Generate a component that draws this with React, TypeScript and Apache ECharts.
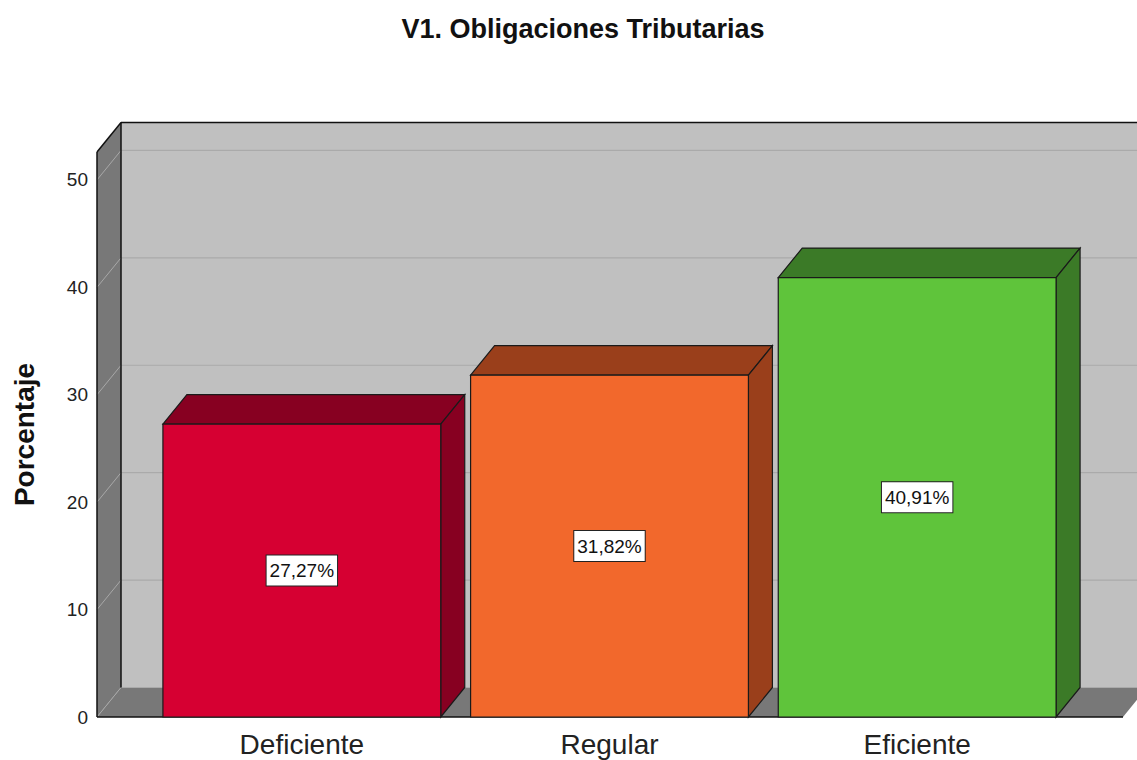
import React, { useEffect, useRef } from "react";
import * as echarts from "echarts";

const titleText = "V1. Obligaciones Tributarias";
const yAxisTitle = "Porcentaje";
const categories = ["Deficiente", "Regular", "Eficiente"];
const percentages = [27.27, 31.82, 40.91];
const yTicks = [0, 10, 20, 30, 40, 50];
const yMax = 52.6;
const frontColors = ["#d60032", "#f2682c", "#5fc43b"];
const shadeColors = ["#870021", "#9a3f1b", "#3b7a27"];

const FONT = "'Liberation Sans', Arial, sans-serif";
const DX = 24;
const DY = 29.5;

function fmtPct(v: number) {
  return v.toFixed(2).replace(".", ",") + "%";
}

export default function App() {
  const ref = useRef<HTMLDivElement>(null);
  useEffect(() => {
    if (!ref.current) return;
    const chart = echarts.init(ref.current, null, { renderer: "svg" });

    const wallsRender = (params: any, api: any) => {
      const cs = params.coordSys;
      const L = cs.x - 51;
      const R = cs.x + cs.width + 52;
      const top = cs.y;
      const bottom = cs.y + cs.height;
      const children: any[] = [];
      children.push({
        type: "rect",
        shape: { x: L + DX, y: top - DY, width: R + DX + 60 - (L + DX), height: bottom - top },
        style: { fill: "#c0c0c0" },
      });
      children.push({
        type: "polygon",
        shape: { points: [[L, top], [L + DX, top - DY], [L + DX, bottom - DY], [L, bottom]] },
        style: { fill: "#787878" },
      });
      children.push({
        type: "polygon",
        shape: { points: [[L, bottom], [L + DX, bottom - DY], [R + DX, bottom - DY], [R, bottom]] },
        style: { fill: "#787878" },
      });
      yTicks.forEach((v) => {
        const y = api.coord([0, v])[1];
        children.push({
          type: "line",
          shape: { x1: L, y1: y, x2: L + DX, y2: y - DY },
          style: { stroke: "#a8a8a8", lineWidth: 1 },
        });
        children.push({
          type: "line",
          shape: { x1: L + DX, y1: y - DY, x2: R + DX + 60, y2: y - DY },
          style: { stroke: "#aaaaaa", lineWidth: 1.2 },
        });
      });
      const black = { stroke: "#111", lineWidth: 1.5 };
      children.push({ type: "line", shape: { x1: L, y1: top, x2: L, y2: bottom }, style: black });
      children.push({ type: "line", shape: { x1: L, y1: top, x2: L + DX, y2: top - DY }, style: black });
      children.push({ type: "line", shape: { x1: L + DX, y1: top - DY, x2: R + DX + 60, y2: top - DY }, style: black });
      children.push({ type: "line", shape: { x1: L + DX, y1: top - DY, x2: L + DX, y2: bottom - DY }, style: black });
      children.push({ type: "line", shape: { x1: L, y1: bottom, x2: R, y2: bottom }, style: black });
      return { type: "group", children };
    };

    const barsRender = (params: any, api: any) => {
      const idx = api.value(0);
      const val = api.value(1);
      const p0 = api.coord([idx, 0]);
      const p1 = api.coord([idx, val]);
      const band = api.size([1, 0])[0];
      const w = band * 0.903;
      const x0 = p0[0] - w / 2;
      const x1 = x0 + w;
      const yb = p0[1];
      const yt = p1[1];
      const edge = { stroke: "#1a1a1a", lineWidth: 1.2 };
      const i = params.dataIndex;
      return {
        type: "group",
        children: [
          {
            type: "polygon",
            shape: { points: [[x0, yt], [x0 + DX, yt - DY], [x1 + DX, yt - DY], [x1, yt]] },
            style: { fill: shadeColors[i], ...edge },
          },
          {
            type: "polygon",
            shape: { points: [[x1, yt], [x1 + DX, yt - DY], [x1 + DX, yb - DY], [x1, yb]] },
            style: { fill: shadeColors[i], ...edge },
          },
          {
            type: "rect",
            shape: { x: x0, y: yt, width: w, height: yb - yt },
            style: { fill: frontColors[i], ...edge },
          },
          {
            type: "text",
            style: {
              x: (x0 + x1) / 2,
              y: (yt + yb) / 2,
              text: fmtPct(val),
              align: "center",
              verticalAlign: "middle",
              fontFamily: FONT,
              fontSize: 19,
              lineHeight: 22,
              fill: "#111",
              backgroundColor: "#ffffff",
              borderColor: "#222",
              borderWidth: 1,
              padding: [4, 3, 4, 3],
            },
          },
        ],
      };
    };

    chart.setOption({
      animation: false,
      backgroundColor: "#ffffff",
      title: {
        text: titleText,
        left: 578,
        textAlign: "center",
        top: 10,
        textStyle: { fontFamily: FONT, fontSize: 27, fontWeight: "bold", color: "#111" },
      },
      grid: { left: 148, top: 152, width: 923, height: 565 },
      xAxis: {
        type: "category",
        data: categories,
        axisLine: { show: false },
        axisTick: { show: false },
        splitLine: { show: false },
        axisLabel: { fontFamily: FONT, fontSize: 28, color: "#222", margin: 13, interval: 0 },
      },
      yAxis: {
        type: "value",
        min: 0,
        max: yMax,
        interval: 10,
        name: yAxisTitle,
        nameLocation: "middle",
        nameGap: 110,
        nameTextStyle: { fontFamily: FONT, fontSize: 28, fontWeight: "bold", color: "#111" },
        axisLine: { show: false },
        axisTick: { show: false },
        splitLine: { show: false },
        axisLabel: {
          fontFamily: FONT,
          fontSize: 19,
          color: "#222",
          margin: 60,
          showMaxLabel: false,
          formatter: (v: number) => (yTicks.indexOf(v) >= 0 ? String(v) : ""),
        },
      },
      series: [
        {
          type: "custom",
          silent: true,
          z: 1,
          renderItem: wallsRender,
          data: [[0, 0]],
        },
        {
          type: "custom",
          z: 2,
          renderItem: barsRender,
          data: categories.map((c, i) => [i, percentages[i]]),
        },
      ],
    });
    return () => chart.dispose();
  }, []);
  return (
    <div
      ref={ref}
      style={{ position: "fixed", left: 0, top: 0, width: 1137, height: 760, background: "#fff" }}
    />
  );
}
